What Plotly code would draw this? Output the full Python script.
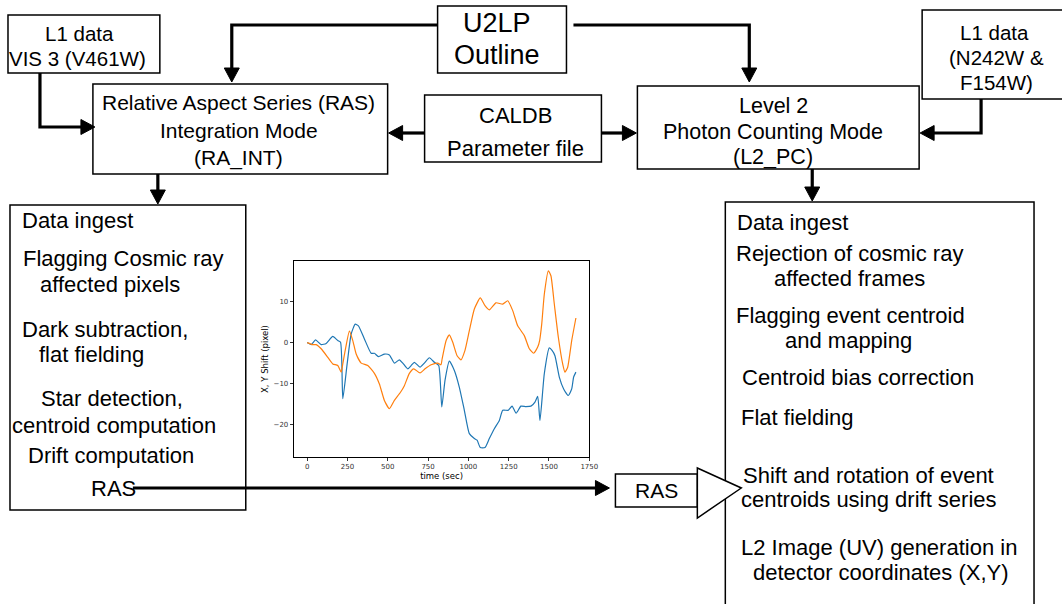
import plotly.graph_objects as go

# ---------------- inset chart data ----------------
blue_t = [0, 25, 52, 87, 118, 159, 190, 207, 221, 248, 273, 298, 318, 355, 397, 417, 442, 479, 510, 541,
          572, 593, 624, 645, 665, 700, 727, 758, 789, 816, 835, 855, 882, 913, 944, 975, 1006, 1037, 1054, 1074,
          1103, 1130, 1161, 1192, 1213, 1248, 1271, 1296, 1326, 1357, 1388, 1413, 1430, 1444, 1471, 1502, 1519,
          1537, 1564, 1591, 1620, 1641, 1653, 1667]
blue_v = [0, -0.5, 0.65, -0.5, -0.2, 1.5, 0.5, 0.1, -13.7, -5.2, 2.1, 4.5, 4.1, 0.9, -2.6, -2.6, -3.4, -2.8, -3.0,
          -5.0, -4.2, -5.0, -6.4, -5.6, -4.8, -6.0, -5.0, -3.7, -4.8, -5.6, -15.7, -9.2, -4.5, -6.8, -10.9, -16.5,
          -22.2, -23.4, -23.8, -25.6, -25.6, -23.4, -21.0, -19.0, -16.5, -16.5, -15.5, -17.2, -15.5, -15.6, -15.5,
          -14.5, -13.1, -19.0, -7.6, -1.3, -1.9, -3.2, -8.4, -11.3, -12.9, -11.3, -8.4, -7.2]

orange_t = [0, 35, 56, 87, 128, 159, 190, 211, 221, 236, 262, 283, 304, 335, 376, 417, 448, 479, 510, 541, 579,
            603, 634, 661, 700, 731, 769, 810, 830, 837, 862, 882, 903, 930, 954, 979, 1006, 1037, 1074, 1103,
            1130, 1171, 1213, 1244, 1275, 1306, 1347, 1378, 1405, 1430, 1442, 1455, 1471, 1496, 1512, 1533, 1558,
            1585, 1599, 1616, 1641, 1667]
orange_v = [0, -0.5, -0.5, -1.5, -3.6, -5.2, -5.6, -7.2, -5.2, -1.9, 2.8, 0.5, -2.8, -5.0, -5.6, -7.5, -10.1,
            -14.1, -16.1, -14.1, -12.1, -10.5, -7.5, -6.4, -7.4, -6.4, -5.4, -5.0, -5.4, -4.0, 0.5, 1.9, 0.1, -3.2,
            -4.2, -1.9, 2.9, 8.2, 10.9, 9.0, 8.0, 9.7, 9.4, 10.2, 7.8, 4.1, 1.7, -1.5, -2.6, -1.1, 0.5, 4.5, 11.8,
            17.5, 16.3, 9.4, 1.3, -5.2, -7.2, -6.0, 0.5, 6.0]

x_ticks = [0, 250, 500, 750, 1000, 1250, 1500, 1750]
y_ticks = [-20, -10, 0, 10]
x_title = "time (sec)"
y_title = "X, Y Shift (pixel)"

W, H = 1063, 604          # reference canvas (diagram coordinates)
FIG_W = 1071              # rendered figure width
FONT = "Liberation Sans, Arial, Helvetica, sans-serif"

fig = go.Figure()
fig.add_trace(go.Scatter(x=blue_t, y=blue_v, mode="lines",
                         line=dict(color="#1f77b4", width=1.2, shape="spline", smoothing=0.5),
                         showlegend=False, hoverinfo="skip"))
fig.add_trace(go.Scatter(x=orange_t, y=orange_v, mode="lines",
                         line=dict(color="#ff7f0e", width=1.2, shape="spline", smoothing=0.5),
                         showlegend=False, hoverinfo="skip"))
# overlay canvas axis (pixel coordinates) for the diagram
fig.add_trace(go.Scatter(x=[None], y=[None], xaxis="x2", yaxis="y2", showlegend=False, hoverinfo="skip"))

shapes = []
annots = []


def box(x0, y0, x1, y1, lw=1.5):
    shapes.append(dict(type="rect", xref="x2", yref="y2", x0=x0, y0=y0, x1=x1, y1=y1,
                       line=dict(color="black", width=lw), fillcolor="rgba(0,0,0,0)", layer="above"))


def path(d, lw=3.2):
    shapes.append(dict(type="path", xref="x2", yref="y2", path=d,
                       line=dict(color="black", width=lw), layer="above"))


def head(tx, ty, direction, L=14, hw=7.5):
    if direction == "right":
        d = f"M{tx},{ty} L{tx - L},{ty - hw} L{tx - L},{ty + hw} Z"
    elif direction == "left":
        d = f"M{tx},{ty} L{tx + L},{ty - hw} L{tx + L},{ty + hw} Z"
    else:  # down
        d = f"M{tx},{ty} L{tx - hw},{ty - L} L{tx + hw},{ty - L} Z"
    shapes.append(dict(type="path", xref="x2", yref="y2", path=d, fillcolor="black",
                       line=dict(color="black", width=1), layer="above"))


def text(x, y, s, size=21, anchor="center"):
    annots.append(dict(xref="x2", yref="y2", x=x, y=y, text=s, showarrow=False,
                       xanchor=anchor, yanchor="middle",
                       font=dict(family=FONT, size=size, color="black")))


# ---- top boxes ----
box(8, 15, 160, 73)
text(80, 33, "L1 data", 20.5)
text(78, 58, "VIS 3 (V461W)", 20.5)

box(93, 84, 388, 174)
text(239, 102, "Relative Aspect Series (RAS)", 21)
text(239, 130, "Integration Mode", 21)
text(239, 158, "(RA_INT)", 21)

box(438, 6, 567, 73)
text(497, 23, "U2LP", 27)
text(497, 55, "Outline", 27)

box(425, 95, 602, 162)
text(516, 115, "CALDB", 22)
text(516, 148, "Parameter file", 22)

box(638, 86, 920, 169)
text(774, 106, "Level 2", 21.5)
text(774, 132, "Photon Counting Mode", 21.5)
text(774, 157, "(L2_PC)", 21.5)

box(923, 10, 1064, 99)
text(995, 32, "L1 data", 20.5)
text(997, 57, "(N242W &", 20.5)
text(997, 82, "F154W)", 20.5)

# ---- connectors ----
path("M40,73 V127 H84")
head(95, 127, "right")
path("M438,25 H232 V70")
head(232, 82, "down")
path("M574,25 H750 V70")
head(750, 82, "down")
path("M425,133 H400")
head(389, 133, "left")
path("M602,133 H626")
head(637, 133, "right")
path("M982,99 V133 H932")
head(921, 133, "left")
path("M158,174 V192")
head(158, 204, "down")
path("M813,169 V188")
head(813, 201, "down")
path("M133,488 H597")
head(610, 488, "right")

# ---- left process box ----
box(10, 205, 246, 510)
left_lines = [
    (20, 220, "Data ingest"),
    (21, 258, "Flagging Cosmic ray"),
    (38, 284, "affected pixels"),
    (20, 329, "Dark subtraction,"),
    (37, 354, "flat fielding"),
    (39, 398, "Star detection,"),
    (10, 425, "centroid computation"),
    (26, 455, "Drift computation"),
    (89, 488, "RAS"),
]
for x, y, s in left_lines:
    text(x, y, s, 22, "left")

# ---- right process box ----
box(726, 202, 1035, 640)
right_lines = [
    (736, 222, "Data ingest"),
    (735, 253, "Rejection of cosmic ray"),
    (773, 278, "affected frames"),
    (735, 315, "Flagging event centroid"),
    (784, 340, "and mapping"),
    (741, 377, "Centroid bias correction"),
    (740, 417, "Flat fielding"),
    (742, 475, "Shift and rotation of event"),
    (740, 499, "centroids using drift series"),
    (740, 547, "L2 Image (UV) generation in"),
    (752, 572, "detector coordinates (X,Y)"),
]
for x, y, s in right_lines:
    text(x, y, s, 22, "left")

# ---- RAS small box + triangle ----
box(616, 474, 698, 507)
text(657, 490, "RAS", 21)
shapes.append(dict(type="path", xref="x2", yref="y2", path="M698,468 L742,488 L698,518 Z",
                   fillcolor="white", line=dict(color="black", width=1.5), layer="above"))

# ---- inset axes geometry (reference pixels -> paper) ----
ax_x0, ax_x1, ax_y0, ax_y1 = 294, 590, 261, 457

fig.update_layout(
    width=FIG_W, height=H, autosize=False,
    margin=dict(l=0, r=0, t=0, b=0),
    paper_bgcolor="white", plot_bgcolor="rgba(0,0,0,0)",
    shapes=shapes, annotations=annots,
    xaxis=dict(domain=[ax_x0 / W, ax_x1 / W], range=[-83.4, 1751], tickvals=x_ticks,
               ticks="outside", ticklen=3, tickwidth=0.8, tickcolor="black",
               showline=True, linecolor="black", linewidth=1, mirror=True, showgrid=False, zeroline=False,
               tickfont=dict(family="DejaVu Sans", size=7, color="#333"),
               title=dict(text=x_title, font=dict(family="DejaVu Sans", size=8.5, color="black"), standoff=1),
               anchor="y"),
    yaxis=dict(domain=[1 - ax_y1 / H, 1 - ax_y0 / H], range=[-27.9, 19.9], tickvals=y_ticks,
               ticks="outside", ticklen=3, tickwidth=0.8, tickcolor="black",
               showline=True, linecolor="black", linewidth=1, mirror=True, showgrid=False, zeroline=False,
               tickfont=dict(family="DejaVu Sans", size=7, color="#333"),
               title=dict(text=y_title, font=dict(family="DejaVu Sans", size=8.5, color="black"), standoff=3),
               anchor="x"),
    xaxis2=dict(domain=[0, 1], range=[0, W], visible=False, fixedrange=True, anchor="y2"),
    yaxis2=dict(domain=[0, 1], range=[H, 0], visible=False, fixedrange=True, anchor="x2"),
)

fig.write_html(
    "out.html",
    config={"displayModeBar": False, "responsive": False, "staticPlot": True},
    post_script=("document.documentElement.style.margin='0';document.documentElement.style.padding='0';"
                 "document.documentElement.style.overflow='hidden';"
                 "document.body.style.margin='0';document.body.style.padding='0';"
                 "document.body.style.overflow='hidden';"),
)
